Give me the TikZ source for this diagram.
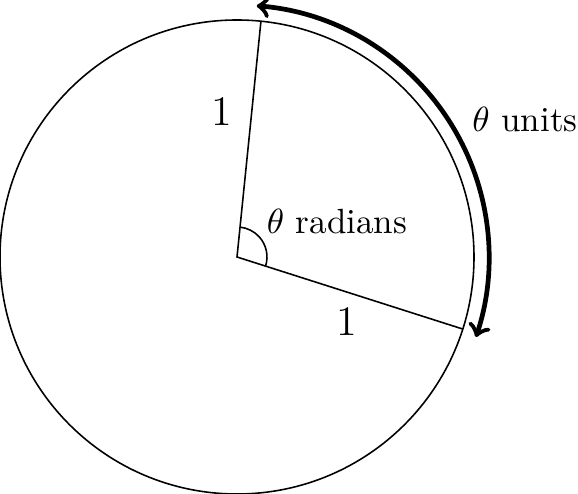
\documentclass[tikz,border=0pt]{standalone}
\usetikzlibrary{calc}
\begin{document}
\begin{tikzpicture}[x=0.2857pt,y=0.2857pt,line width=0.45pt,
  lbl/.style={inner sep=0pt},
  bigl/.style={inner sep=0pt,font=\large}]
\useasboundingbox (0,0) rectangle (578,494);
\coordinate (C) at (237,237);
\node[draw,circle,minimum size=474*0.2857pt,inner sep=0pt] (circ) at (C) {};
\coordinate (A) at ($(C)+(84.2:237)$);
\coordinate (B) at ($(C)+(-17.7:237)$);
\draw (A) -- (C) -- (B);
\draw ($(C)+(-17.7:30)$) arc[start angle=-17.7,end angle=84.2,radius=30];
\draw[line width=1.35pt,<->] ($(C)+(85.5:252)$) arc[start angle=85.5,end angle=-18.5,radius=252];
\node[bigl] (one1) at (222,382) {1};
\node[bigl] (one2) at (347,172) {1};
\node[lbl] (rad) at (337,272) {$\theta$ radians};
\node[lbl] (units) at (525,374) {$\theta$ units};
\end{tikzpicture}
\end{document}
